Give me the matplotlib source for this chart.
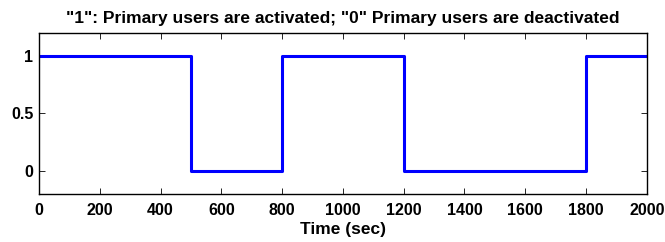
import matplotlib
matplotlib.use("Agg")
import matplotlib.pyplot as plt
import numpy as np

# switching instants (sec) and primary user state after each instant
t_switch = [0, 500, 800, 1200, 1800, 2000]
state = [1, 0, 1, 0, 1, 1]

x_ticks = [0, 200, 400, 600, 800, 1000, 1200, 1400, 1600, 1800, 2000]
y_ticks = [0, 0.5, 1]

plt.rcParams['font.family'] = ['Liberation Sans', 'DejaVu Sans']
plt.rcParams['font.weight'] = 'bold'

fig = plt.figure(figsize=(6.65, 2.42), dpi=100)
ax = fig.add_axes([0.0586, 0.198, 0.914, 0.667])

ax.step(t_switch, state, where='post', color='#0000ff', lw=2.2)

ax.set_xlim(0, 2000)
ax.set_ylim(-0.2, 1.2)
ax.set_xticks(x_ticks)
ax.set_yticks(y_ticks)
ax.set_yticklabels(['0', '0.5', '1'])
ax.tick_params(direction='in', top=True, right=True, length=4, width=0.6,
               labelsize=11.5)
ax.tick_params(axis='x', pad=6.5)
ax.tick_params(axis='y', pad=4)
for lab in ax.get_xticklabels() + ax.get_yticklabels():
    lab.set_fontweight('bold')
for sp in ax.spines.values():
    sp.set_linewidth(1.0)

ax.set_xlabel('Time (sec)', fontsize=12.5, fontweight='bold', labelpad=3)
ax.set_title('"1": Primary users are activated; "0" Primary users are deactivated',
             fontsize=12.5, fontweight='bold', pad=7)

fig.savefig('out.png', dpi=100)
